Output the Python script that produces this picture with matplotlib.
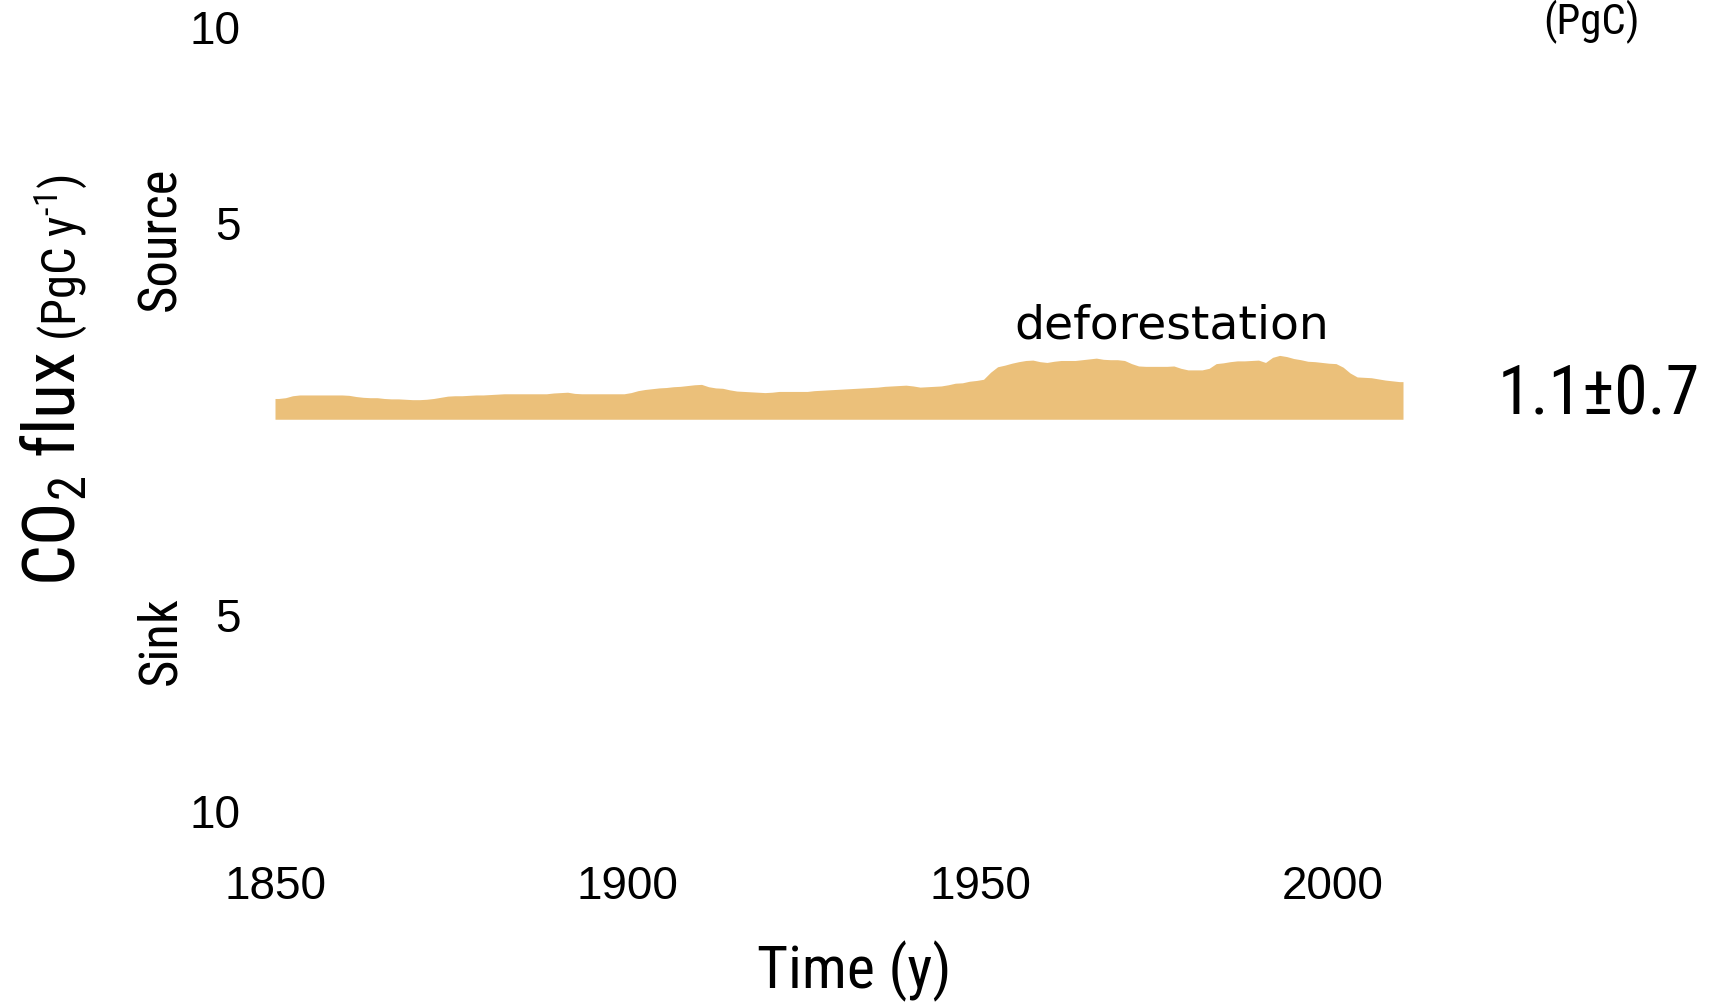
import os
import matplotlib
matplotlib.use("Agg")
import matplotlib.pyplot as plt
from matplotlib import font_manager as fm

# land-use change (deforestation) CO2 flux, PgC per year, 1850-2009
years = list(range(1850, 2010))
land_use_flux = [
    0.53, 0.55, 0.60, 0.62, 0.62, 0.62, 0.62, 0.62, 0.62, 0.62,  # 1850s
    0.61, 0.58, 0.56, 0.55, 0.55, 0.53, 0.52, 0.52, 0.51, 0.50,  # 1860s
    0.50, 0.51, 0.53, 0.56, 0.59, 0.60, 0.60, 0.61, 0.62, 0.62,  # 1870s
    0.63, 0.64, 0.65, 0.65, 0.65, 0.65, 0.65, 0.65, 0.65, 0.67,  # 1880s
    0.68, 0.69, 0.66, 0.65, 0.65, 0.65, 0.65, 0.65, 0.65, 0.65,  # 1890s
    0.68, 0.73, 0.76, 0.78, 0.80, 0.81, 0.83, 0.84, 0.86, 0.88,  # 1900s
    0.89, 0.83, 0.80, 0.79, 0.75, 0.72, 0.71, 0.70, 0.69, 0.68,  # 1910s
    0.69, 0.71, 0.71, 0.71, 0.71, 0.71, 0.73, 0.74, 0.75, 0.76,  # 1920s
    0.77, 0.78, 0.79, 0.80, 0.81, 0.82, 0.84, 0.85, 0.86, 0.87,  # 1930s
    0.85, 0.82, 0.83, 0.84, 0.85, 0.88, 0.92, 0.93, 0.97, 0.99,  # 1940s
    1.02, 1.20, 1.34, 1.38, 1.43, 1.47, 1.50, 1.51, 1.47, 1.45,  # 1950s
    1.48, 1.50, 1.50, 1.50, 1.52, 1.54, 1.56, 1.53, 1.52, 1.52,  # 1960s
    1.50, 1.42, 1.36, 1.35, 1.35, 1.35, 1.35, 1.36, 1.30, 1.26,  # 1970s
    1.26, 1.26, 1.30, 1.42, 1.44, 1.47, 1.49, 1.49, 1.50, 1.51,  # 1980s
    1.45, 1.58, 1.63, 1.60, 1.55, 1.52, 1.48, 1.47, 1.45, 1.43,  # 1990s
    1.42, 1.33, 1.18, 1.08, 1.07, 1.06, 1.03, 1.00, 0.98, 0.96,  # 2000s
]
assert len(years) == len(land_use_flux)

xtick_values = [1850, 1900, 1950, 2000]
ytick_values = [10, 5, -5, -10]
ytick_labels = ["10", "5", "5", "10"]
budget_text = "1.1\u00b10.7"

bar_color = "#EBC07A"

# look for a narrow sans face for the titles
prefs = ["liberationsansnarrow-regular", "robotocondensed-regular", "notosans-condensed",
         "opensans-condensed", "dejavusanscondensed."]
skip = ("bold", "italic", "oblique", "light", "thin", "black", "medium")
found = {}
for f in fm.fontManager.ttflist:
    b = os.path.basename(f.fname).lower()
    for p in prefs:
        if b.startswith(p) and not any(k in b for k in skip):
            found.setdefault(p, f)
entry = next((found[p] for p in prefs if p in found), None)

if entry is not None:
    narrow = dict(family=[entry.name, "DejaVu Sans"], stretch=entry.stretch)
    math_rm = f"{entry.name}:stretch={entry.stretch}"
    k = 1.0
else:
    narrow = dict(family=["Liberation Sans", "DejaVu Sans"])
    math_rm = "Liberation Sans"
    k = 0.85

plt.rcParams["font.family"] = ["Liberation Sans", "DejaVu Sans"]
plt.rcParams["mathtext.fontset"] = "custom"
plt.rcParams["mathtext.rm"] = math_rm
plt.rcParams["mathtext.it"] = math_rm

W, H = 1711, 1008


def fx(px):
    return px / W


def fy(py):
    return 1 - py / H


fig = plt.figure(figsize=(W / 100, H / 100), dpi=100)
ax = fig.add_axes([fx(275), fy(811), fx(1403) - fx(275), fy(27.5) - fy(811)])

# yearly values sit at mid-year, held flat out to the ends of the record
mid = [y + 0.5 for y in years]
xs = [years[0]] + mid + [years[-1] + 1]
ys = [land_use_flux[0]] + land_use_flux + [land_use_flux[-1]]
ax.fill_between(xs, 0, ys, color=bar_color, linewidth=0)

ax.set_xlim(1850, 2010)
ax.set_ylim(-10, 10)
ax.set_xticks(xtick_values)
ax.set_yticks(ytick_values)
ax.set_yticklabels(ytick_labels)
ax.tick_params(axis="both", length=0, labelsize=33)
ax.tick_params(axis="y", pad=25)
ax.tick_params(axis="x", pad=39)
for s in ax.spines.values():
    s.set_visible(False)

ax.text(1977.2, 2.38, "deforestation", fontsize=34, family="DejaVu Sans",
        ha="center", va="center")

# axis titles
fig.text(fx(854), fy(971), "Time (y)", fontsize=43 * k, ha="center", va="center", **narrow)
fig.text(fx(175), fy(239), "Source", fontsize=38 * k, rotation=90,
         rotation_mode="anchor", ha="center", va="baseline", **narrow)
fig.text(fx(175), fy(641), "Sink", fontsize=38 * k, rotation=90, rotation_mode="anchor",
         ha="center", va="baseline", **narrow)

ylab = fig.text(fx(76), fy(586), "CO$_2$ flux", fontsize=52 * k, rotation=90,
                rotation_mode="anchor", ha="left", va="baseline", **narrow)
fig.canvas.draw()
bb = ylab.get_window_extent()
fig.text(fx(76), (bb.y1 + 10) / H, r"(PgC y$^{\text{-1}}$)", fontsize=35 * k, rotation=90,
         rotation_mode="anchor", ha="left", va="baseline", **narrow)

fig.text(fx(1700), fy(396), budget_text, fontsize=49 * k, ha="right", va="center", **narrow)
fig.text(fx(1591), fy(22), "(PgC)", fontsize=31 * k, ha="center", va="center", **narrow)

fig.savefig("out.png", dpi=100)
